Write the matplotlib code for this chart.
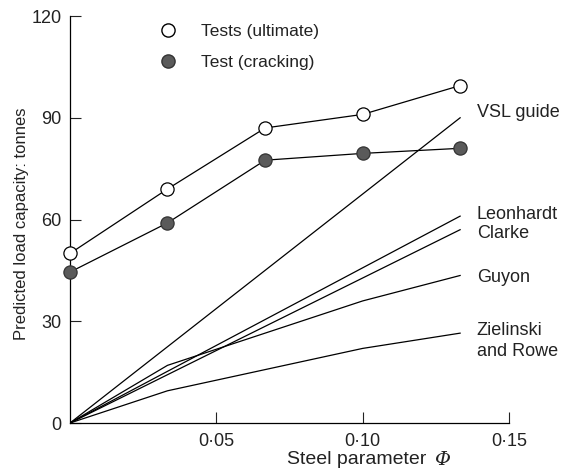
import matplotlib
matplotlib.use("Agg")
import matplotlib.pyplot as plt
from matplotlib.lines import Line2D
from matplotlib.ticker import FuncFormatter

plt.rcParams['font.family'] = ['Liberation Sans', 'DejaVu Sans']

# steel parameter values of the tests
phi = [0, 0.0333, 0.0667, 0.1, 0.1333]
ultimate = [50, 69, 87, 91, 99.5]
cracking = [44.5, 59, 77.5, 79.5, 81]

# predicted curves
vsl_x, vsl_y = [0, 0.1333], [0, 90]
leon_x, leon_y = [0, 0.1333], [0, 61]
clarke_x, clarke_y = [0, 0.1333], [0, 57]
guyon_x, guyon_y = [0, 0.0333, 0.1, 0.1333], [0, 17, 36, 43.5]
ziel_x, ziel_y = [0, 0.0333, 0.1, 0.1333], [0, 9.5, 22, 26.5]

curve_labels = [("VSL guide", 91.5, 1.2), ("Leonhardt\nClarke", 58.7, 1.12),
                ("Guyon", 42.8, 1.2), ("Zielinski\nand Rowe", 24.2, 1.3)]

txt_col = '#222222'
fig = plt.figure(figsize=(5.71, 4.76), dpi=100)
ax = fig.add_axes([0.1226, 0.1113, 0.7688, 0.855])

lw = 0.9
ax.plot(phi, ultimate, color='black', lw=lw, marker='o', ms=9.5,
        mfc='white', mec='black', mew=0.9, zorder=3, clip_on=False)
ax.plot(phi, cracking, color='black', lw=lw, marker='o', ms=9.5,
        mfc='#5a5a5a', mec='#333333', mew=0.9, zorder=3, clip_on=False)
for xs, ys in [(vsl_x, vsl_y), (leon_x, leon_y), (clarke_x, clarke_y),
               (guyon_x, guyon_y), (ziel_x, ziel_y)]:
    ax.plot(xs, ys, color='black', lw=lw)

for txt, yv, ls in curve_labels:
    ax.text(0.139, yv, txt, fontsize=13, color=txt_col, va='center', ha='left',
            linespacing=ls)

handles = [Line2D([], [], ls='none', marker='o', ms=9.5, mfc='white', mec='black'),
           Line2D([], [], ls='none', marker='o', ms=9.5, mfc='#5a5a5a', mec='#333333')]
ax.legend(handles, ["Tests (ultimate)", "Test (cracking)"], frameon=False,
          loc='upper left', bbox_to_anchor=(0.203, 0.98), fontsize=12.5,
          handlelength=1.0, labelspacing=0.88, handletextpad=1.4,
          borderaxespad=0, borderpad=0, labelcolor=txt_col)

ax.set_xlim(0, 0.15)
ax.set_ylim(0, 120)
ax.set_xticks([0.05, 0.10, 0.15])
ax.set_yticks([0, 30, 60, 90, 120])
ax.xaxis.set_major_formatter(FuncFormatter(lambda v, p: f"{v:.2f}".replace('.', '\u00b7')))
ax.tick_params(direction='in', length=8, width=0.8, labelsize=13, colors=txt_col)
ax.tick_params(axis='y', pad=6)
ax.tick_params(axis='x', pad=7)
ax.spines['top'].set_visible(False)
ax.spines['right'].set_visible(False)
for s in ['left', 'bottom']:
    ax.spines[s].set_linewidth(0.9)

ax.set_ylabel("Predicted load capacity: tonnes", fontsize=12, color=txt_col)
ax.yaxis.set_label_coords(-0.094, 0.49)
ax.set_xlabel("Steel parameter", fontsize=14, color=txt_col)
ax.xaxis.set_label_coords(0.652, -0.069)
# italic phi after the axis label
ax.text(0.848, -0.069, "\u03a6", transform=ax.transAxes, fontsize=14, color=txt_col,
        fontfamily='DejaVu Serif', fontstyle='italic', ha='center', va='top', clip_on=False)

fig.savefig("out.png", dpi=100)
